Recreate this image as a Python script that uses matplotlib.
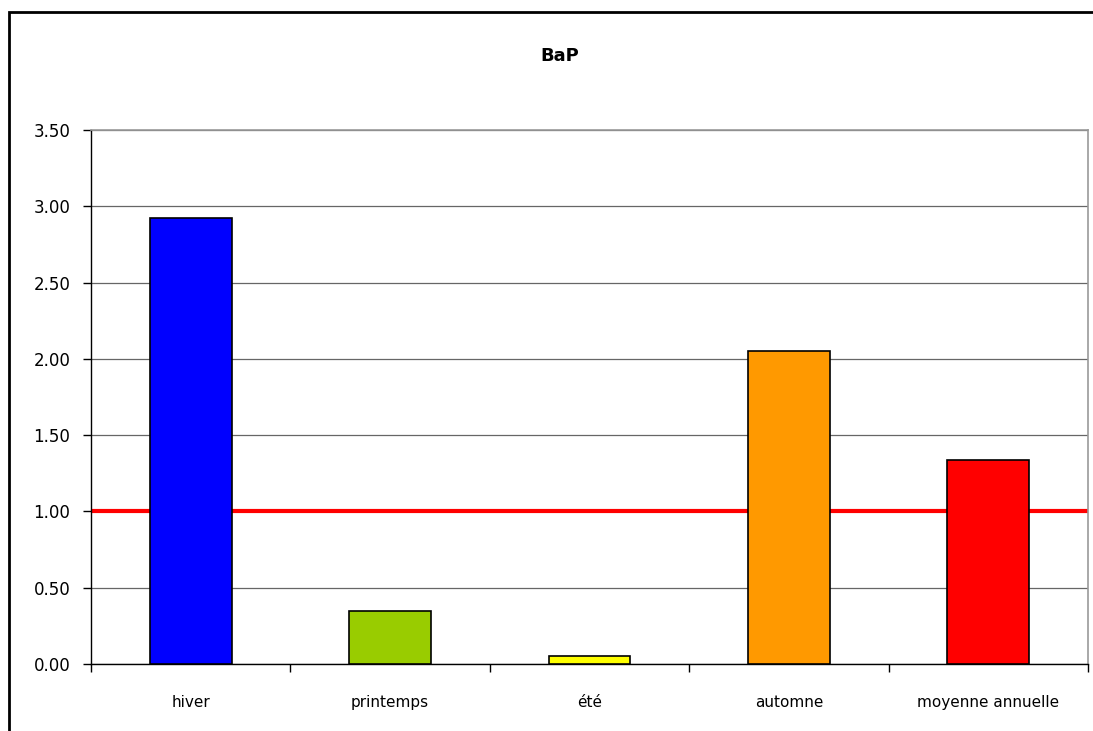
import matplotlib
matplotlib.use("Agg")
import matplotlib.pyplot as plt
import numpy as np
from matplotlib.patches import Rectangle

# donnees
saisons = ["hiver", "printemps", "été", "automne", "moyenne annuelle"]
bap = [2.92, 0.35, 0.05, 2.05, 1.34]
couleurs = ["#0000FF", "#99CC00", "#FFFF00", "#FF9900", "#FF0000"]
valeur_cible = 1.0
yticks = [0.0, 0.5, 1.0, 1.5, 2.0, 2.5, 3.0, 3.5]

W, H = 1093, 731
fig = plt.figure(figsize=(W / 100, H / 100), dpi=100)
ax = fig.add_axes([91 / W, 1 - 664 / H, (1088 - 91) / W, (664 - 130) / H])

x = np.arange(len(saisons))
ax.axhline(valeur_cible, color="#FF0000", lw=3, zorder=2)
ax.bar(x, bap, width=0.41, color=couleurs, edgecolor="black", linewidth=1.2, zorder=3)

ax.set_xlim(-0.5, len(saisons) - 0.5)
ax.set_ylim(0, 3.5)
ax.set_yticks(yticks)
ax.set_yticklabels(["%.2f" % v for v in yticks], fontsize=12)
ax.yaxis.grid(True, color="#666666", lw=0.9, zorder=0)
ax.set_axisbelow(True)

ax.set_xticks(x)
ax.set_xticklabels(saisons, fontsize=11)
ax.set_xticks(np.arange(-0.5, len(saisons)), minor=True)
ax.tick_params(axis="x", which="major", length=0, pad=22)
ax.tick_params(axis="x", which="minor", length=6, direction="out", width=1)
ax.tick_params(axis="y", length=6, direction="out", width=1, pad=9)

for s in ["top", "right"]:
    ax.spines[s].set_color("#999999")
    ax.spines[s].set_linewidth(1.2)
for s in ["left", "bottom"]:
    ax.spines[s].set_color("black")
    ax.spines[s].set_linewidth(1)

fig.text(560 / W, 1 - 56 / H, "BaP", ha="center", va="center", fontsize=13, fontweight="bold")

# cadre du graphique
fig.patches.append(Rectangle((9 / W, -0.1), 1.2, 1 - 12 / H + 0.1, transform=fig.transFigure,
                             fill=False, edgecolor="black", lw=2))

fig.savefig("out.png", dpi=100)
